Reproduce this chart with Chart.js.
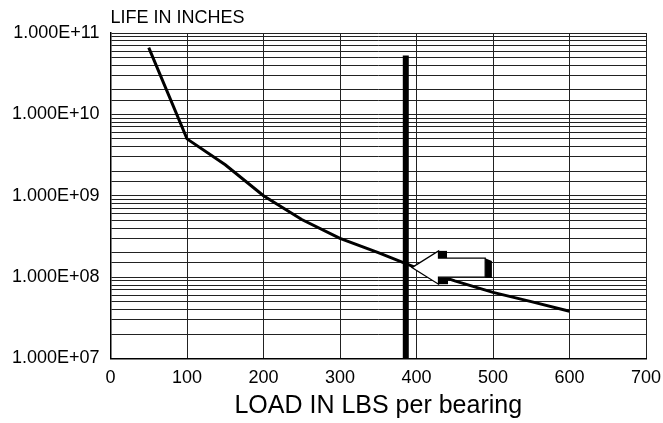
<!DOCTYPE html>
<html>
<head>
<meta charset="utf-8">
<script src="https://cdn.jsdelivr.net/npm/chart.js@4.4.0/dist/chart.umd.min.js"></script>
<style>
  html, body { margin: 0; padding: 0; background: #ffffff; }
  #wrap { width: 663px; height: 423px; position: relative; }
</style>
</head>
<body>
<div id="wrap"><canvas id="lifeChart"></canvas></div>
<script>
// Bearing life curve
var loads = [50, 100, 150, 200, 250, 300, 350, 400, 450, 500, 550, 600];
var lifeInches = [6.6e10, 5.0e9, 2.4e9, 1.0e9, 5.1e8, 3.0e8, 2.0e8, 1.3e8, 9.0e7, 6.5e7, 5.0e7, 3.8e7];

// Thick vertical marker at the rated load
var markerLoad = [386, 386];
var markerLife = [1e7, 5.3e10];

// Arrow pointing at the curve/marker crossing
var arrowTipLoad = 394;
var arrowTipLife = 1.31e8;

var xTicks = [0, 100, 200, 300, 400, 500, 600, 700];

var FONT = "'Liberation Sans', Arial, sans-serif";

function formatSci(v) {
    var e = Math.round(Math.log10(v));
    var s = Math.abs(e) < 10 ? '0' + Math.abs(e) : '' + Math.abs(e);
    return '1.000E' + (e < 0 ? '-' : '+') + s;
}

// Draws the "LIFE IN INCHES" heading and the hollow 3D arrow
var extrasPlugin = {
    id: 'extras',
    afterDatasetsDraw: function(chart) {
        var c = chart.ctx;
        var xs = chart.scales.x, ys = chart.scales.y;
        var tx = xs.getPixelForValue(arrowTipLoad);
        var ty = ys.getPixelForValue(arrowTipLife);
        c.save();
        // black extrusion parts
        c.fillStyle = '#000';
        c.fillRect(tx + 26.6, ty - 16.7, 8.5, 7.4);
        c.fillRect(tx + 26.6, ty + 9.6, 9.5, 7.0);
        c.beginPath();
        c.moveTo(tx + 73.3, ty - 9.4);
        c.lineTo(tx + 80, ty - 6.5);
        c.lineTo(tx + 80, ty + 10.5);
        c.lineTo(tx + 73.3, ty + 10.5);
        c.closePath();
        c.fill();
        // white arrow body
        c.beginPath();
        c.moveTo(tx, ty);
        c.lineTo(tx + 26.6, ty - 16.7);
        c.lineTo(tx + 26.6, ty - 9.4);
        c.lineTo(tx + 73.3, ty - 9.4);
        c.lineTo(tx + 73.3, ty + 9.6);
        c.lineTo(tx + 26.6, ty + 9.6);
        c.lineTo(tx + 26.6, ty + 16.6);
        c.closePath();
        c.fillStyle = '#fff';
        c.fill();
        c.lineWidth = 1.3;
        c.strokeStyle = '#000';
        c.stroke();
        c.restore();
    },
    afterDraw: function(chart) {
        var c = chart.ctx;
        c.save();
        c.fillStyle = '#000';
        c.font = '18px ' + FONT;
        c.textBaseline = 'middle';
        c.textAlign = 'left';
        c.fillText('LIFE IN INCHES', chart.chartArea.left, 18);
        c.restore();
    }
};

var curvePoints = loads.map(function(x, i) { return { x: x, y: lifeInches[i] }; });
var markerPoints = markerLoad.map(function(x, i) { return { x: x, y: markerLife[i] }; });

new Chart(document.getElementById('lifeChart'), {
    type: 'line',
    data: {
        datasets: [
            {
                data: markerPoints,
                borderColor: '#000',
                borderWidth: 6,
                borderCapStyle: 'butt',
                pointRadius: 0,
                tension: 0
            },
            {
                data: curvePoints,
                borderColor: '#000',
                borderWidth: 3,
                pointRadius: 0,
                tension: 0
            }
        ]
    },
    options: {
        responsive: true,
        maintainAspectRatio: false,
        animation: false,
        layout: { padding: { top: 33, right: 17, bottom: 0, left: 0 } },
        plugins: {
            legend: { display: false },
            tooltip: { enabled: false }
        },
        scales: {
            x: {
                type: 'linear',
                min: 0,
                max: 700,
                afterBuildTicks: function(axis) {
                    axis.ticks = xTicks.map(function(v) { return { value: v }; });
                },
                ticks: {
                    padding: 9,
                    color: '#000',
                    font: { family: FONT, size: 18 }
                },
                grid: { color: '#222', lineWidth: 1, drawTicks: false },
                border: { color: '#000', width: 1.5 },
                title: {
                    display: true,
                    text: 'LOAD IN LBS per bearing',
                    color: '#000',
                    font: { family: FONT, size: 25 },
                    padding: { top: 0, bottom: 2 }
                },
                afterFit: function(axis) {
                    axis.height = 64.5;
                    axis.paddingLeft = 0;
                    axis.paddingRight = 0;
                }
            },
            y: {
                type: 'logarithmic',
                min: 1e7,
                max: 1e11,
                ticks: {
                    autoSkip: false,
                    padding: 11,
                    color: '#000',
                    font: { family: FONT, size: 18 },
                    callback: function(value) {
                        var l = Math.log10(value);
                        if (Math.abs(l - Math.round(l)) < 1e-6) return formatSci(value);
                        return '';
                    }
                },
                grid: { color: '#222', lineWidth: 1, drawTicks: false },
                border: { color: '#000', width: 1.5 },
                afterFit: function(axis) { axis.width = 110.5; }
            }
        }
    },
    plugins: [extrasPlugin]
});
</script>
</body>
</html>
